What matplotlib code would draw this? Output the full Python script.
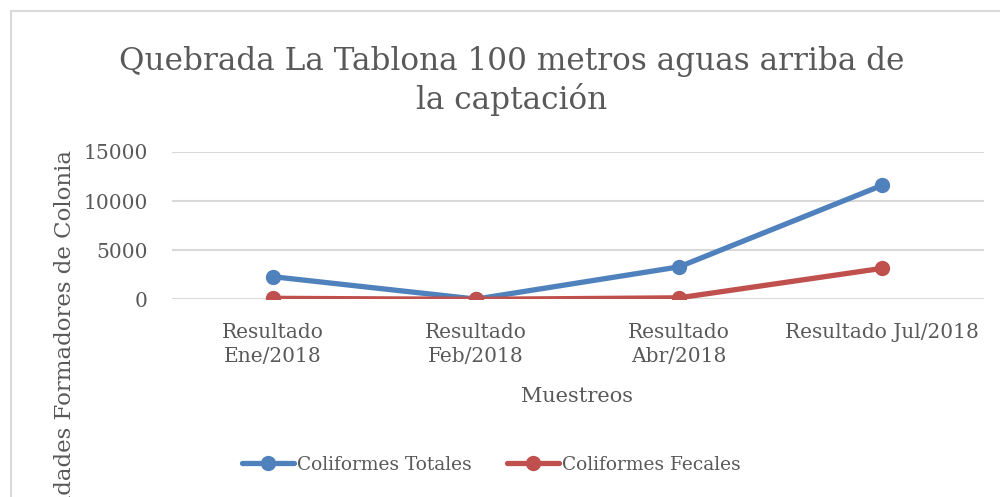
import matplotlib.pyplot as plt
from matplotlib.lines import Line2D

categorias = ['Resultado\nEne/2018', 'Resultado\nFeb/2018', 'Resultado\nAbr/2018', 'Resultado Jul/2018']
totales = [2300, 20, 3300, 11600]
fecales = [100, 0, 150, 3150]
yticks = [0, 5000, 10000, 15000]

azul = '#4f81bd'
rojo = '#c0504d'
gris = '#595959'

plt.rcParams['font.family'] = ['DejaVu Serif']

fig = plt.figure(figsize=(10, 4.97), dpi=100)
ax = fig.add_axes([0.1715, 0.3978, 0.812, 0.2964])

x = range(len(categorias))
ax.plot(x, totales, color=azul, lw=3.8, marker='o', ms=10, solid_capstyle='round', label='Coliformes Totales')
ax.plot(x, fecales, color=rojo, lw=3.8, marker='o', ms=10, solid_capstyle='round', label='Coliformes Fecales')

ax.set_xlim(-0.5, len(categorias) - 0.5)
ax.set_ylim(0, 15000)
ax.set_yticks(yticks)
ax.set_xticks(list(x))
ax.set_xticklabels(categorias, fontsize=14.5, color=gris, linespacing=1.35)
ax.tick_params(axis='y', labelsize=14.5, labelcolor=gris, length=0, pad=17)
ax.tick_params(axis='x', length=0, pad=17)
ax.grid(axis='y', color='#d9d9d9', lw=1.5)
ax.set_axisbelow(True)
for s in ax.spines.values():
    s.set_visible(False)

fig.text(0.512, 0.837, 'Quebrada La Tablona 100 metros aguas arriba de\nla captación',
         ha='center', va='center', fontsize=22.4, color=gris, linespacing=1.25)
fig.text(0.577, 0.203, 'Muestreos', ha='center', va='center', fontsize=15, color=gris)
fig.text(0.065, 0.31, 'Unidades Formadores de Colonia', rotation=90, ha='center', va='center',
         fontsize=16.5, color=gris)

leg = fig.legend(loc='center', bbox_to_anchor=(0.491, 0.065), ncol=2, frameon=False,
                 fontsize=13.4, handlelength=2.8, handletextpad=0.15, columnspacing=1.9,
                 labelcolor=gris)

# borde del area del grafico
fig.add_artist(Line2D([0.0105, 0.0105], [0, 1 - 11 / 497], color='#d9d9d9', lw=1.5))
fig.add_artist(Line2D([0.0105, 1.0], [1 - 11 / 497, 1 - 11 / 497], color='#d9d9d9', lw=1.5))

fig.savefig('out.png', dpi=100)
